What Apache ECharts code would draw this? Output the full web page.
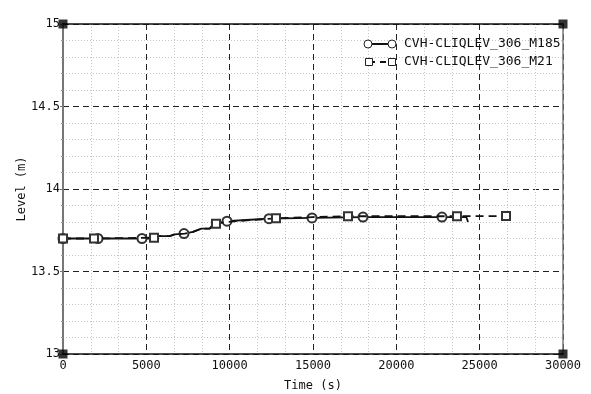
<!DOCTYPE html>
<html>
<head>
<meta charset="utf-8">
<script src="https://cdn.jsdelivr.net/npm/echarts@6/dist/echarts.min.js"></script>
<style>
  html, body { margin: 0; padding: 0; background: #fff; }
  #chart { width: 591px; height: 394px; }
</style>
</head>
<body>
<div id="chart"></div>
<script>
// Series names
const seriesNames = ['CVH-CLIQLEV_306_M185', 'CVH-CLIQLEV_306_M21'];

// CVH-CLIQLEV_306_M185: time (s), level (m), marker flag
const time185  = [0, 2100, 4740, 5400, 5700, 6400, 6700, 7260, 7800, 8300, 8800, 9000, 9840, 11000, 12360, 14940, 18000, 22740, 24200, 24300];
const level185 = [13.70, 13.70, 13.70, 13.70, 13.715, 13.715, 13.725, 13.73, 13.74, 13.76, 13.76, 13.785, 13.805, 13.812, 13.82, 13.825, 13.83, 13.83, 13.83, 13.80];
const mark185  = [1, 1, 1, 0, 0, 0, 0, 1, 0, 0, 0, 0, 1, 0, 1, 1, 1, 1, 0, 0];

// CVH-CLIQLEV_306_M21: time (s), level (m), marker flag
const time21  = [0, 1860, 5460, 5700, 6400, 6700, 7300, 7800, 8300, 8800, 9180, 9840, 11000, 12780, 15000, 17100, 23640, 24300, 26580];
const level21 = [13.70, 13.70, 13.705, 13.715, 13.715, 13.725, 13.73, 13.74, 13.76, 13.76, 13.79, 13.80, 13.81, 13.822, 13.83, 13.835, 13.835, 13.836, 13.836];
const mark21  = [1, 1, 1, 0, 0, 0, 0, 0, 0, 0, 1, 0, 0, 1, 0, 1, 1, 0, 1];

// Axis ranges
const xRange = [0, 30000];
const yRange = [13, 15];
const frameCorners = [[0, 13], [0, 15], [30000, 13], [30000, 15]];

const FONT = 'DejaVu Sans Mono';

function buildData(ts, ls, ms) {
  return ts.map((t, i) => ms[i] ? [t, ls[i]] : { value: [t, ls[i]], symbol: 'none' });
}

const chart = echarts.init(document.getElementById('chart'), null, { renderer: 'canvas' });

const gridLine = { show: true, lineStyle: { color: '#222', type: [6, 4], width: 1 } };
const minorLine = { show: true, lineStyle: { color: '#c4c4c4', type: [1, 2], width: 1 } };

chart.setOption({
  animation: false,
  backgroundColor: '#fff',
  grid: { left: 63, right: 28, top: 24, bottom: 40, containLabel: false, outerBoundsMode: 'none' },
  xAxis: [{
    type: 'value', min: xRange[0], max: xRange[1], interval: 5000,
    name: 'Time (s)', nameLocation: 'middle', nameGap: 26, nameMoveOverlap: false,
    nameTextStyle: { fontFamily: FONT, fontSize: 12, color: '#111' },
    axisLine: { show: true, onZero: false, lineStyle: { color: '#111', width: 1.5 } },
    axisTick: { show: false },
    axisLabel: { fontFamily: FONT, fontSize: 12, color: '#111', margin: 6,
      formatter: v => String(v) },
    splitLine: gridLine,
    minorTick: { show: false, splitNumber: 3 },
    minorSplitLine: minorLine
  }, {
    type: 'value', min: xRange[0], max: xRange[1], interval: 5000, position: 'top',
    axisLine: { show: true, onZero: false, lineStyle: { color: '#111', width: 1.5 } },
    axisTick: { show: false }, axisLabel: { show: false }, splitLine: { show: false }
  }],
  yAxis: [{
    type: 'value', min: yRange[0], max: yRange[1], interval: 0.5,
    name: 'Level (m)', nameLocation: 'middle', nameGap: 35, nameRotate: 90, nameMoveOverlap: false,
    nameTextStyle: { fontFamily: FONT, fontSize: 12, color: '#111' },
    axisLine: { show: true, onZero: false, lineStyle: { color: '#777', width: 2 } },
    axisTick: { show: true, length: 3, lineStyle: { color: '#777' } },
    minorTick: { show: true, splitNumber: 5, length: 2, lineStyle: { color: '#999' } },
    axisLabel: { fontFamily: FONT, fontSize: 12, color: '#111', margin: 3,
      formatter: v => String(+v.toFixed(1)) },
    splitLine: gridLine,
    minorSplitLine: minorLine
  }, {
    type: 'value', min: yRange[0], max: yRange[1], interval: 0.5, position: 'right',
    axisLine: { show: true, onZero: false, lineStyle: { color: '#777', width: 1.5 } },
    axisTick: { show: false }, axisLabel: { show: false }, splitLine: { show: false }
  }],
  series: [{
    name: seriesNames[0], type: 'line',
    data: buildData(time185, level185, mark185),
    symbol: 'emptyCircle', symbolSize: 9, showAllSymbol: true,
    lineStyle: { color: '#111', width: 1.8 },
    itemStyle: { color: '#333', borderColor: '#333', borderWidth: 0.8 },
    z: 3
  }, {
    name: seriesNames[1], type: 'line',
    data: buildData(time21, level21, mark21),
    symbol: 'emptyRect', symbolSize: 8, showAllSymbol: true,
    lineStyle: { color: '#111', width: 1.8, type: [8, 5] },
    itemStyle: { color: '#333', borderColor: '#333', borderWidth: 0.8 },
    z: 4
  }, {
    name: 'frame', type: 'scatter', data: frameCorners,
    symbol: 'rect', symbolSize: 9, clip: false, silent: true,
    itemStyle: { color: '#000' }, z: 6
  }],
  graphic: [
    // legend entry 1: solid line with circles
    { type: 'line', shape: { x1: 368, y1: 44, x2: 392, y2: 44 }, style: { stroke: '#111', lineWidth: 2 }, z: 10 },
    { type: 'circle', shape: { cx: 368, cy: 44, r: 4 }, style: { fill: '#fff', stroke: '#222', lineWidth: 1 }, z: 11 },
    { type: 'circle', shape: { cx: 392, cy: 44, r: 4 }, style: { fill: '#fff', stroke: '#222', lineWidth: 1 }, z: 11 },
    { type: 'text', x: 404, y: 44, style: { text: seriesNames[0], font: '13px "DejaVu Sans Mono"', fill: '#111', verticalAlign: 'middle' }, z: 11 },
    // legend entry 2: dashed line with squares
    { type: 'line', shape: { x1: 369, y1: 62, x2: 392, y2: 62 }, style: { stroke: '#111', lineWidth: 2, lineDash: [6, 5] }, z: 10 },
    { type: 'rect', shape: { x: 365.5, y: 58.5, width: 7, height: 7 }, style: { fill: '#fff', stroke: '#222', lineWidth: 1 }, z: 11 },
    { type: 'rect', shape: { x: 388.5, y: 58.5, width: 7, height: 7 }, style: { fill: '#fff', stroke: '#222', lineWidth: 1 }, z: 11 },
    { type: 'text', x: 404, y: 62, style: { text: seriesNames[1], font: '13px "DejaVu Sans Mono"', fill: '#111', verticalAlign: 'middle' }, z: 11 }
  ]
});
</script>
</body>
</html>
